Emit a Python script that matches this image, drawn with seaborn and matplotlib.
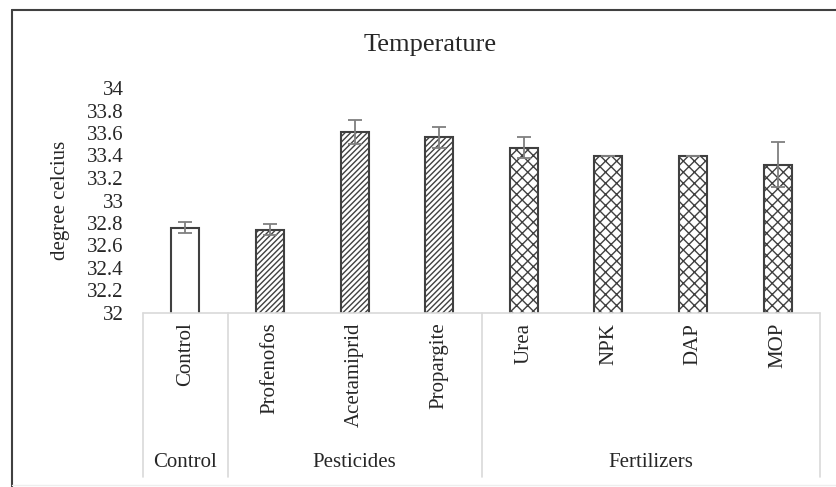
import matplotlib
matplotlib.use("Agg")
import matplotlib.pyplot as plt
import seaborn as sns
import pandas as pd
from matplotlib.lines import Line2D
import matplotlib.transforms as mtransforms

categories = ["Control", "Profenofos", "Acetamiprid", "Propargite", "Urea", "NPK", "DAP", "MOP"]
groups = ["Control", "Pesticides", "Pesticides", "Pesticides", "Fertilizers", "Fertilizers", "Fertilizers", "Fertilizers"]
values = [32.76, 32.74, 33.61, 33.56, 33.47, 33.40, 33.40, 33.32]
errors = [0.05, 0.05, 0.11, 0.09, 0.09, 0.0, 0.0, 0.20]
group_names = ["Control", "Pesticides", "Fertilizers"]
yticks = [32, 32.2, 32.4, 32.6, 32.8, 33, 33.2, 33.4, 33.6, 33.8, 34]

sns.set_theme(style="white")
plt.rcParams['font.family'] = ['Liberation Serif', 'DejaVu Serif']
plt.rcParams['hatch.linewidth'] = 1.0
plt.rcParams['hatch.color'] = '#404040'

df = pd.DataFrame({"category": categories, "value": values, "group": groups})

fig = plt.figure(figsize=(8.36, 4.87), dpi=100)
ax = fig.add_axes([143/836, 1-313/487, (820-143)/836, 225/487])

sns.barplot(data=df, x="category", y="value", color="white", width=0.33,
            edgecolor="#404040", linewidth=1.5, errorbar=None, ax=ax, bottom=0)

hatch_map = {"Control": "", "Pesticides": "//////", "Fertilizers": "xxx"}
for patch, g in zip(ax.patches, groups):
    patch.set_hatch(hatch_map[g])

ax.errorbar(range(len(categories)), values, yerr=errors, fmt="none",
            ecolor="#7f7f7f", elinewidth=1.3, capsize=5, capthick=1.3, zorder=5)

ax.set_ylim(32, 34)
ax.set_xlim(-0.5, 7.5)
ax.set_yticks(yticks)
ax.set_yticklabels([f"{v:g}" for v in yticks], fontsize=15)
ax.set_xticks(range(len(categories)))
ax.set_xticklabels(categories, rotation=90, fontsize=15, va="top")
ax.tick_params(axis="x", length=0, pad=7)
ax.tick_params(axis="y", length=0, pad=14)
ax.set_xlabel("")
ax.set_ylabel("degree celcius", fontsize=15)
ax.yaxis.set_label_coords(-(143-70)/677, 0.5)
for s in ["left", "right", "top", "bottom"]:
    ax.spines[s].set_visible(False)

# category box lines
trans = mtransforms.blended_transform_factory(ax.transData, ax.transAxes)
line_col = "#d9d9d9"
ax.add_line(Line2D([-0.5, 7.5], [0, 0], transform=trans, color=line_col, lw=1.2, clip_on=False))
for xb in [-0.5, 0.5, 3.5, 7.5]:
    ax.add_line(Line2D([xb, xb], [0, -(477-313)/225], transform=trans, color=line_col, lw=1.2, clip_on=False))

group_centers = [0, 2, 5.5]
for name, xc in zip(group_names, group_centers):
    ax.text(xc, -(462-313)/225, name, transform=trans, ha="center", va="center", fontsize=15)

fig.text(430/836, 1-45/487, "Temperature", ha="center", va="center", fontsize=19)

# outer frame
fig.add_artist(Line2D([12/836, 12/836], [0, 1-10/487], transform=fig.transFigure, color="#404040", lw=1.5))
fig.add_artist(Line2D([12/836, 1], [1-10/487, 1-10/487], transform=fig.transFigure, color="#404040", lw=1.5))
fig.add_artist(Line2D([12/836, 1], [1-485/487, 1-485/487], transform=fig.transFigure, color="#eeeeee", lw=1))

fig.savefig("out.png", dpi=100)
